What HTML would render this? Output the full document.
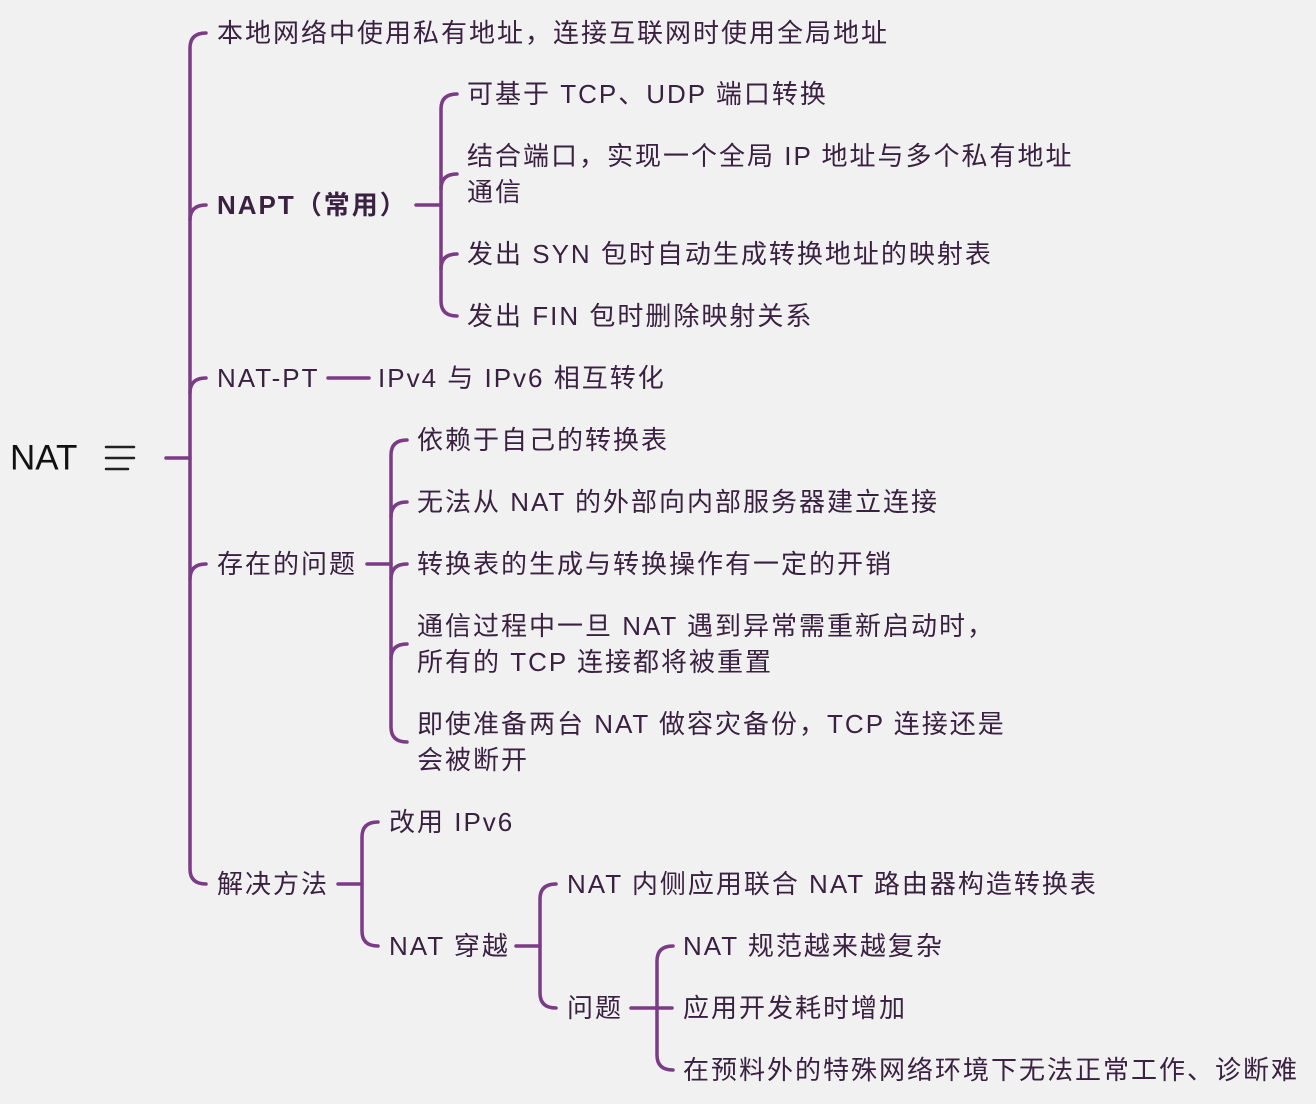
<!DOCTYPE html>
<html><head><meta charset="utf-8"><style>
html,body{margin:0;padding:0;background:#f1f1f1;}
svg{display:block}
text{font-family:"Liberation Sans","Noto Sans CJK SC",sans-serif;font-size:26px;fill:#3a2141;dominant-baseline:central;letter-spacing:2px}
.b{font-weight:bold}
path,line{stroke:#7b3b86;stroke-width:3.5;fill:none;stroke-linecap:round}
</style></head><body>
<svg width="1316" height="1104" viewBox="0 0 1316 1104">
<!-- root -->
<text x="10" y="458" style="font-size:35px;letter-spacing:0;fill:#111">NAT</text>
<line x1="106" y1="447" x2="134" y2="447" style="stroke:#222;stroke-width:2.5"/>
<line x1="106" y1="458" x2="134" y2="458" style="stroke:#222;stroke-width:2.5"/>
<line x1="106" y1="469" x2="128" y2="469" style="stroke:#222;stroke-width:2.5"/>
<line x1="166" y1="458" x2="190" y2="458"/>
<path d="M206 33 Q190 33 190 48 L190 869 Q190 884 206 884"/>
<path d="M190 220 Q190 205 206 205"/>
<path d="M190 393 Q190 378 206 378"/>
<path d="M190 579 Q190 564 206 564"/>
<text x="217" y="33">本地网络中使用私有地址，连接互联网时使用全局地址</text>
<text x="217" y="205" class="b">NAPT（常用）</text>
<text x="217" y="378">NAT-PT</text>
<text x="217" y="564">存在的问题</text>
<text x="217" y="884">解决方法</text>
<!-- NAPT -->
<line x1="416" y1="205" x2="441" y2="205"/>
<path d="M457 94 Q441 94 441 109 L441 301 Q441 316 457 316"/>
<path d="M441 189 Q441 174 457 174"/>
<path d="M441 269 Q441 254 457 254"/>
<text x="467" y="94">可基于 TCP、UDP 端口转换</text>
<text x="467" y="156">结合端口，实现一个全局 IP 地址与多个私有地址</text>
<text x="467" y="192">通信</text>
<text x="467" y="254">发出 SYN 包时自动生成转换地址的映射表</text>
<text x="467" y="316">发出 FIN 包时删除映射关系</text>
<!-- NAT-PT -->
<line x1="328" y1="378" x2="369" y2="378"/>
<text x="378" y="378">IPv4 与 IPv6 相互转化</text>
<!-- problems -->
<line x1="367" y1="564" x2="391" y2="564"/>
<path d="M407 440 Q391 440 391 455 L391 727 Q391 742 407 742"/>
<path d="M391 517 Q391 502 407 502"/>
<path d="M391 579 Q391 564 407 564"/>
<path d="M391 659 Q391 644 407 644"/>
<text x="417" y="440">依赖于自己的转换表</text>
<text x="417" y="502">无法从 NAT 的外部向内部服务器建立连接</text>
<text x="417" y="564">转换表的生成与转换操作有一定的开销</text>
<text x="417" y="626">通信过程中一旦 NAT 遇到异常需重新启动时，</text>
<text x="417" y="662">所有的 TCP 连接都将被重置</text>
<text x="417" y="724">即使准备两台 NAT 做容灾备份，TCP 连接还是</text>
<text x="417" y="760">会被断开</text>
<!-- solutions -->
<line x1="338" y1="884" x2="362" y2="884"/>
<path d="M378 822 Q362 822 362 837 L362 931 Q362 946 378 946"/>
<text x="389" y="822">改用 IPv6</text>
<text x="389" y="946">NAT 穿越</text>
<line x1="516" y1="946" x2="540" y2="946"/>
<path d="M556 884 Q540 884 540 899 L540 993 Q540 1008 556 1008"/>
<text x="567" y="884">NAT 内侧应用联合 NAT 路由器构造转换表</text>
<text x="567" y="1008">问题</text>
<line x1="631" y1="1008" x2="672" y2="1008"/>
<path d="M673 946 Q657 946 657 961 L657 1055 Q657 1070 673 1070"/>
<text x="683" y="946">NAT 规范越来越复杂</text>
<text x="683" y="1008">应用开发耗时增加</text>
<text x="683" y="1070">在预料外的特殊网络环境下无法正常工作、诊断难</text>
</svg>
</body></html>
